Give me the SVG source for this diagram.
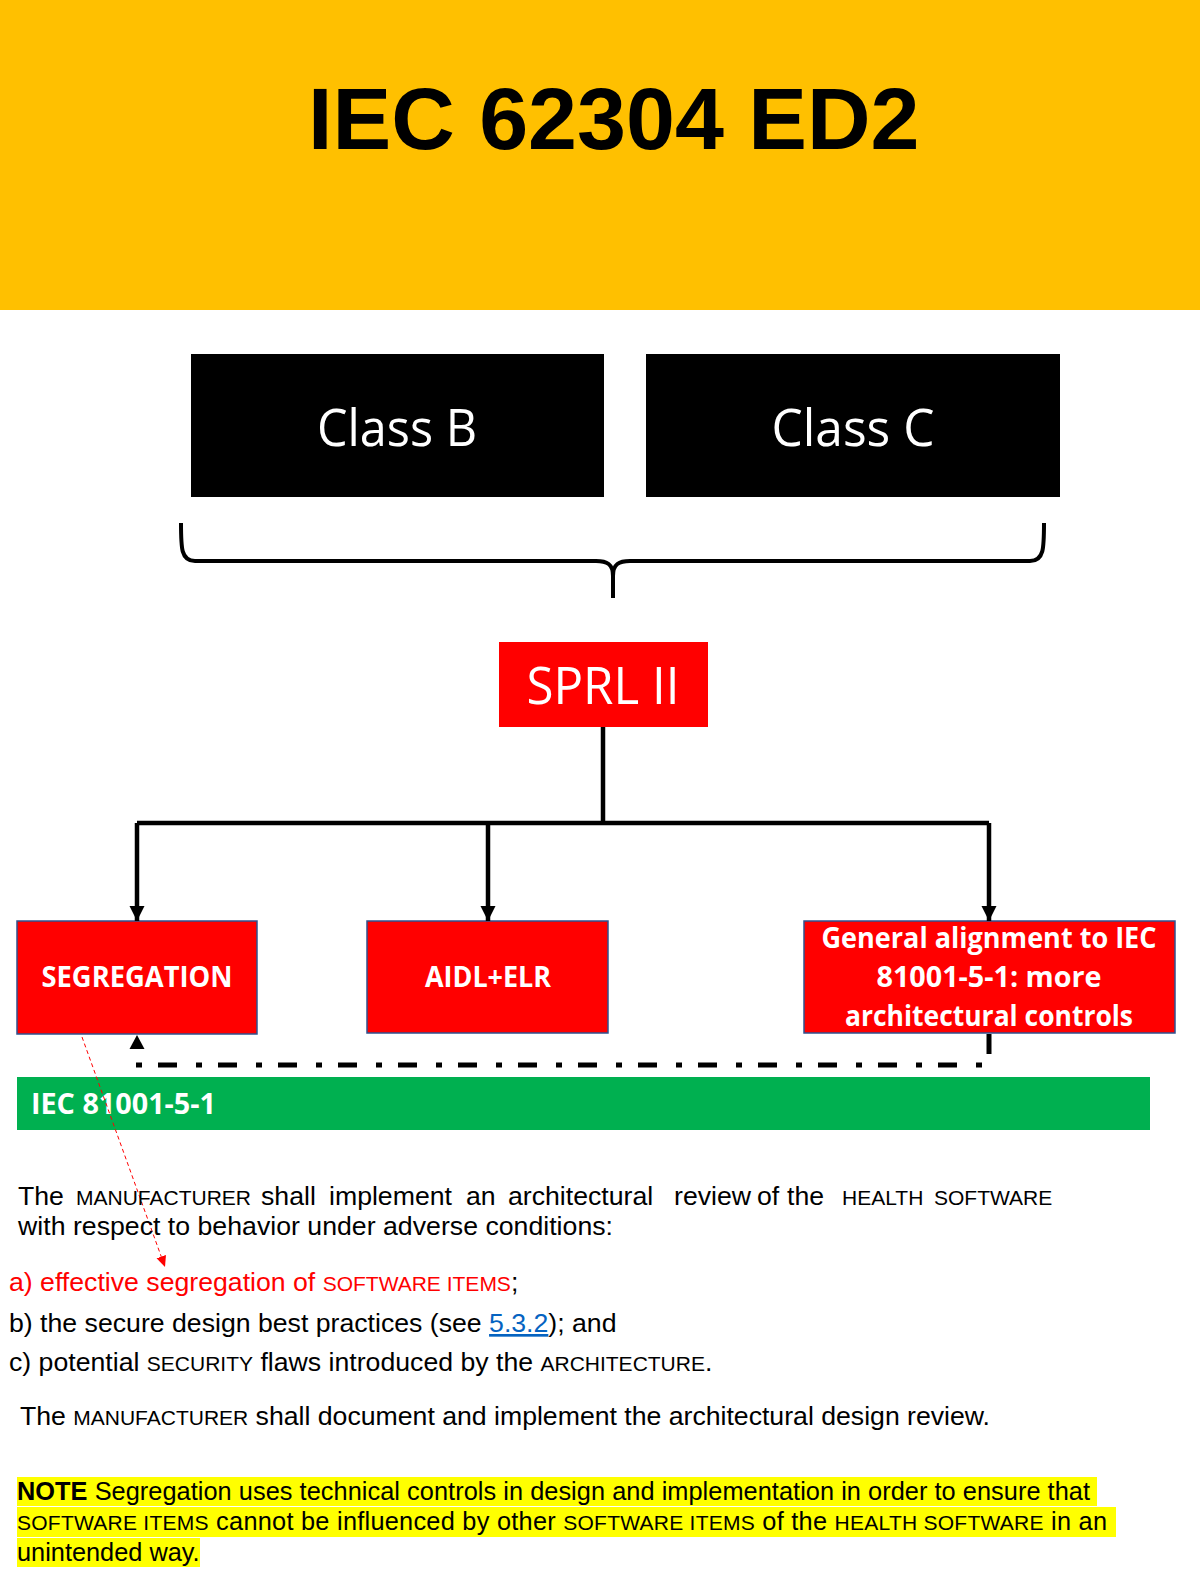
<svg xmlns="http://www.w3.org/2000/svg" width="1200" height="1585" viewBox="0 0 1200 1585">
<style>
.cal{font-family:"Open Sans","Noto Sans",sans-serif;fill:#fff;text-anchor:middle}
.calb{font-family:"Open Sans","Noto Sans",sans-serif;font-weight:700;fill:#fff;text-anchor:middle;font-size:29px}
.body{font-family:"Liberation Sans",Arial,sans-serif;font-size:26.67px;fill:#000}
.note{font-family:"Liberation Sans",Arial,sans-serif;font-size:25.33px;fill:#000}
.sc{font-size:21px}
.redbox{fill:#FF0000;stroke:#2F528F;stroke-width:1.5}
.conn{fill:none;stroke:#000;stroke-width:4.5}
.hl{fill:#FFFF00}
</style>
<defs>
<marker id="ah" markerWidth="16" markerHeight="16" refX="15" refY="8" orient="auto" markerUnits="userSpaceOnUse">
<path d="M0,0.5 L15,8 L0,15.5 Z" fill="#000"/>
</marker>
<marker id="ahr" markerWidth="12" markerHeight="12" refX="11" refY="6" orient="auto" markerUnits="userSpaceOnUse">
<path d="M0,1 L11,6 L0,11 Z" fill="#FF0000"/>
</marker>
</defs>
<rect width="1200" height="1585" fill="#fff"/>
<g id="header">
<rect x="0" y="0" width="1200" height="310" fill="#FFC000"/>
<text x="308" y="149" font-family="'Liberation Sans',Arial,sans-serif" font-weight="700" font-size="88" fill="#000">IEC 62304 ED2</text>
</g>
<g id="classB">
<rect x="191" y="354" width="413" height="143" fill="#000"/>
<text class="cal" x="397" y="446" font-size="52" textLength="160" lengthAdjust="spacingAndGlyphs">Class B</text>
</g>
<g id="classC">
<rect x="646" y="354" width="414" height="143" fill="#000"/>
<text class="cal" x="853" y="446" font-size="52" textLength="163" lengthAdjust="spacingAndGlyphs">Class C</text>
</g>
<g id="brace">
<path d="M181,523 C181,548 181,561 195,561 H596 C607,561 613,564 613,576 V598 M1044,523 C1044,548 1044,561 1030,561 H630 C619,561 613,564 613,576" fill="none" stroke="#000" stroke-width="4"/>
</g>
<g id="sprl">
<rect x="499" y="642" width="209" height="85" fill="#FF0000"/>
<text class="cal" x="603" y="704" font-size="51" textLength="153" lengthAdjust="spacingAndGlyphs">SPRL II</text>
</g>
<g id="segregation">
<rect class="redbox" x="17" y="921" width="240" height="113"/>
<text class="calb" x="137" y="987" textLength="191" lengthAdjust="spacingAndGlyphs">SEGREGATION</text>
</g>
<g id="aidl">
<rect class="redbox" x="367" y="921" width="241" height="112"/>
<text class="calb" x="488" y="987" textLength="126" lengthAdjust="spacingAndGlyphs">AIDL+ELR</text>
</g>
<g id="general">
<rect class="redbox" x="804" y="921" width="371" height="112"/>
<text class="calb" x="989" y="948" textLength="335" lengthAdjust="spacingAndGlyphs">General alignment to IEC</text>
<text class="calb" x="989" y="987" textLength="225" lengthAdjust="spacingAndGlyphs">81001-5-1: more</text>
<text class="calb" x="989" y="1026" textLength="288" lengthAdjust="spacingAndGlyphs">architectural controls</text>
</g>
<g id="iec81001">
<rect x="17" y="1077" width="1133" height="53" fill="#00B050"/>
<text x="31" y="1114" font-family="'Open Sans','Noto Sans',sans-serif" font-weight="700" font-size="29" fill="#fff" textLength="185" lengthAdjust="spacingAndGlyphs">IEC 81001-5-1</text>
</g>
<g id="connectors">
<path class="conn" d="M603,727 V823"/>
<path class="conn" d="M137,823 H989"/>
<path class="conn" d="M137,823 V921" marker-end="url(#ah)"/>
<path class="conn" d="M488,823 V921" marker-end="url(#ah)"/>
<path class="conn" d="M989,823 V921" marker-end="url(#ah)"/>
<path d="M989,1034 V1054" stroke="#000" stroke-width="5" fill="none"/>
<path d="M136,1065 H989" stroke="#000" stroke-width="5" fill="none" stroke-dasharray="6 16 19 19"/>
<path d="M137,1035 L129.5,1049 L144.5,1049 Z" fill="#000"/>
<path d="M82,1037 L165,1267" stroke="#FF0000" stroke-width="1" fill="none" stroke-dasharray="4 3" marker-end="url(#ahr)"/>
</g>
<g id="requirements">
<text class="body" y="1205"><tspan x="18">The</tspan><tspan x="76" class="sc">MANUFACTURER</tspan><tspan x="261">shall</tspan><tspan x="329">implement</tspan><tspan x="466">an</tspan><tspan x="508">architectural</tspan><tspan x="674">review</tspan><tspan x="757">of</tspan><tspan x="787">the</tspan><tspan x="842" class="sc">HEALTH</tspan><tspan x="934" class="sc">SOFTWARE</tspan></text>
<text class="body" x="18" y="1235" textLength="595" lengthAdjust="spacing">with respect to behavior under adverse conditions:</text>
<text class="body" x="9" y="1291" style="fill:#FF0000">a) effective segregation of <tspan class="sc">SOFTWARE ITEMS</tspan><tspan style="fill:#000">;</tspan></text>
<text class="body" x="9" y="1332">b) the secure design best practices (see <tspan style="fill:#0563C1" text-decoration="underline">5.3.2</tspan>); and</text>
<text class="body" x="9" y="1371">c) potential <tspan class="sc">SECURITY</tspan> flaws introduced by the <tspan class="sc">ARCHITECTURE</tspan>.</text>
<text class="body" x="20" y="1425" textLength="970" lengthAdjust="spacing">The <tspan class="sc">MANUFACTURER</tspan> shall document and implement the architectural design review.</text>
</g>
<g id="note">
<rect class="hl" x="17" y="1477" width="1080" height="29"/>
<rect class="hl" x="17" y="1507" width="1099" height="30"/>
<rect class="hl" x="17" y="1538" width="183" height="29"/>
<text class="note" x="17" y="1500" textLength="1073" lengthAdjust="spacing"><tspan font-weight="700">NOTE</tspan> Segregation uses technical controls in design and implementation in order to ensure that</text>
<text class="note" x="17" y="1530" textLength="1090" lengthAdjust="spacing"><tspan class="sc">SOFTWARE ITEMS</tspan> cannot be influenced by other <tspan class="sc">SOFTWARE ITEMS</tspan> of the <tspan class="sc">HEALTH SOFTWARE</tspan> in an</text>
<text class="note" x="17" y="1561">unintended way.</text>
</g>
</svg>
